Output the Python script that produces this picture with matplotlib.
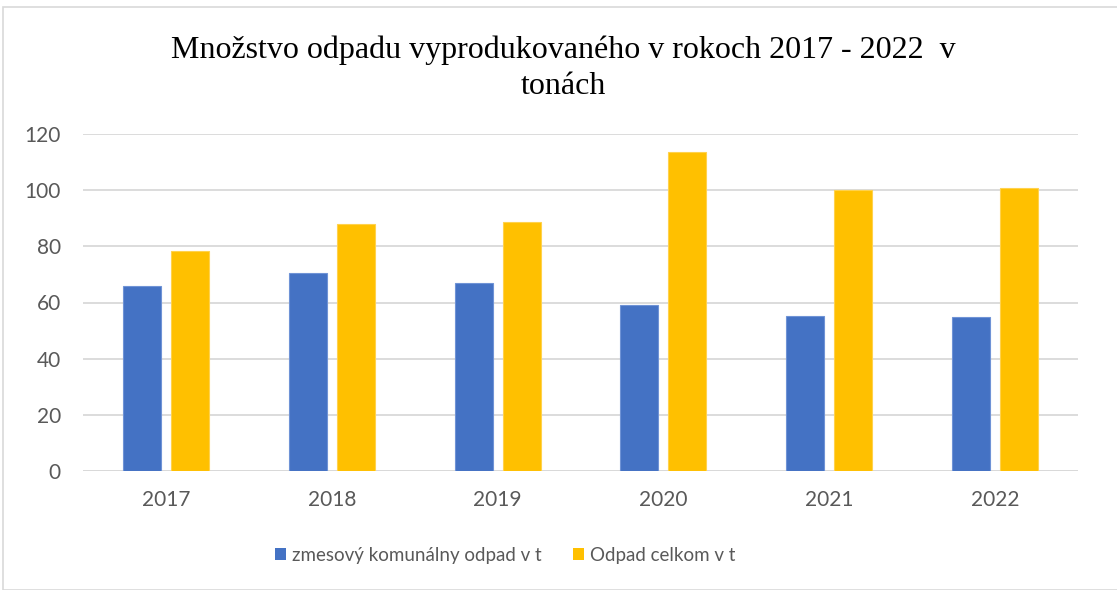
import matplotlib
matplotlib.use("Agg")
import matplotlib.pyplot as plt
from matplotlib.patches import Rectangle, Patch
import numpy as np

years = ["2017", "2018", "2019", "2020", "2021", "2022"]
zmesovy = [65.8, 70.4, 66.8, 59.1, 55.1, 54.7]
celkom = [78.3, 88.0, 88.8, 113.5, 100.1, 100.7]
series_names = ["zmesový komunálny odpad v t", "Odpad celkom v t"]
title = "Množstvo odpadu vyprodukovaného v rokoch 2017 - 2022  v\ntonách"
yticks = [0, 20, 40, 60, 80, 100, 120]

blue = "#4472C4"
yellow = "#FFC000"
gray_text = "#595959"

fig = plt.figure(figsize=(11.17, 5.9), dpi=100)
ax = fig.add_axes([83/1117, 1-471/590, (1078-83)/1117, (471-134)/590])

x = np.arange(len(years))
w = 0.229
off = 0.145
ax.bar(x - off, zmesovy, width=w, color=blue, edgecolor="#6f93d6", linewidth=0.8, zorder=3)
ax.bar(x + off, celkom, width=w, color=yellow, edgecolor="#ffd24d", linewidth=0.8, zorder=3)

ax.set_xlim(-0.5, len(years) - 0.5)
ax.set_ylim(0, 120)
ax.set_yticks(yticks)
ax.set_yticklabels([str(v) for v in yticks])
ax.set_xticks(x)
ax.set_xticklabels(years)
ax.yaxis.grid(True, color="#d9d9d9", linewidth=1.3, zorder=0)
ax.set_axisbelow(True)
for s in ax.spines.values():
    s.set_visible(False)
ax.tick_params(axis="both", length=0, labelsize=15, colors=gray_text)
for lab in ax.get_xticklabels() + ax.get_yticklabels():
    lab.set_family("Lato")
ax.tick_params(axis="x", pad=14)
ax.tick_params(axis="y", pad=16)
ax.axhline(0, color="#d9d9d9", linewidth=1.3, zorder=1)

fig.text(563/1117, 1-68/590, title, ha="center", va="center", fontsize=23,
         family="Liberation Serif", linespacing=1.32, color="black")

handles = [Patch(facecolor=blue), Patch(facecolor=yellow)]
fig.legend(handles, series_names, loc="center", bbox_to_anchor=(505/1117, 1-555/590),
           ncol=2, frameon=False, prop={"family": "Lato", "size": 13.5}, labelcolor=gray_text,
           handlelength=0.6, handleheight=0.6, handletextpad=0.3, columnspacing=1.7)

fig.patches.append(Rectangle((3/1117, 0), 1.2, 1-7/590, transform=fig.transFigure,
                             fill=False, edgecolor="#d9d9d9", linewidth=1.2))

fig.savefig("out.png", dpi=100)
